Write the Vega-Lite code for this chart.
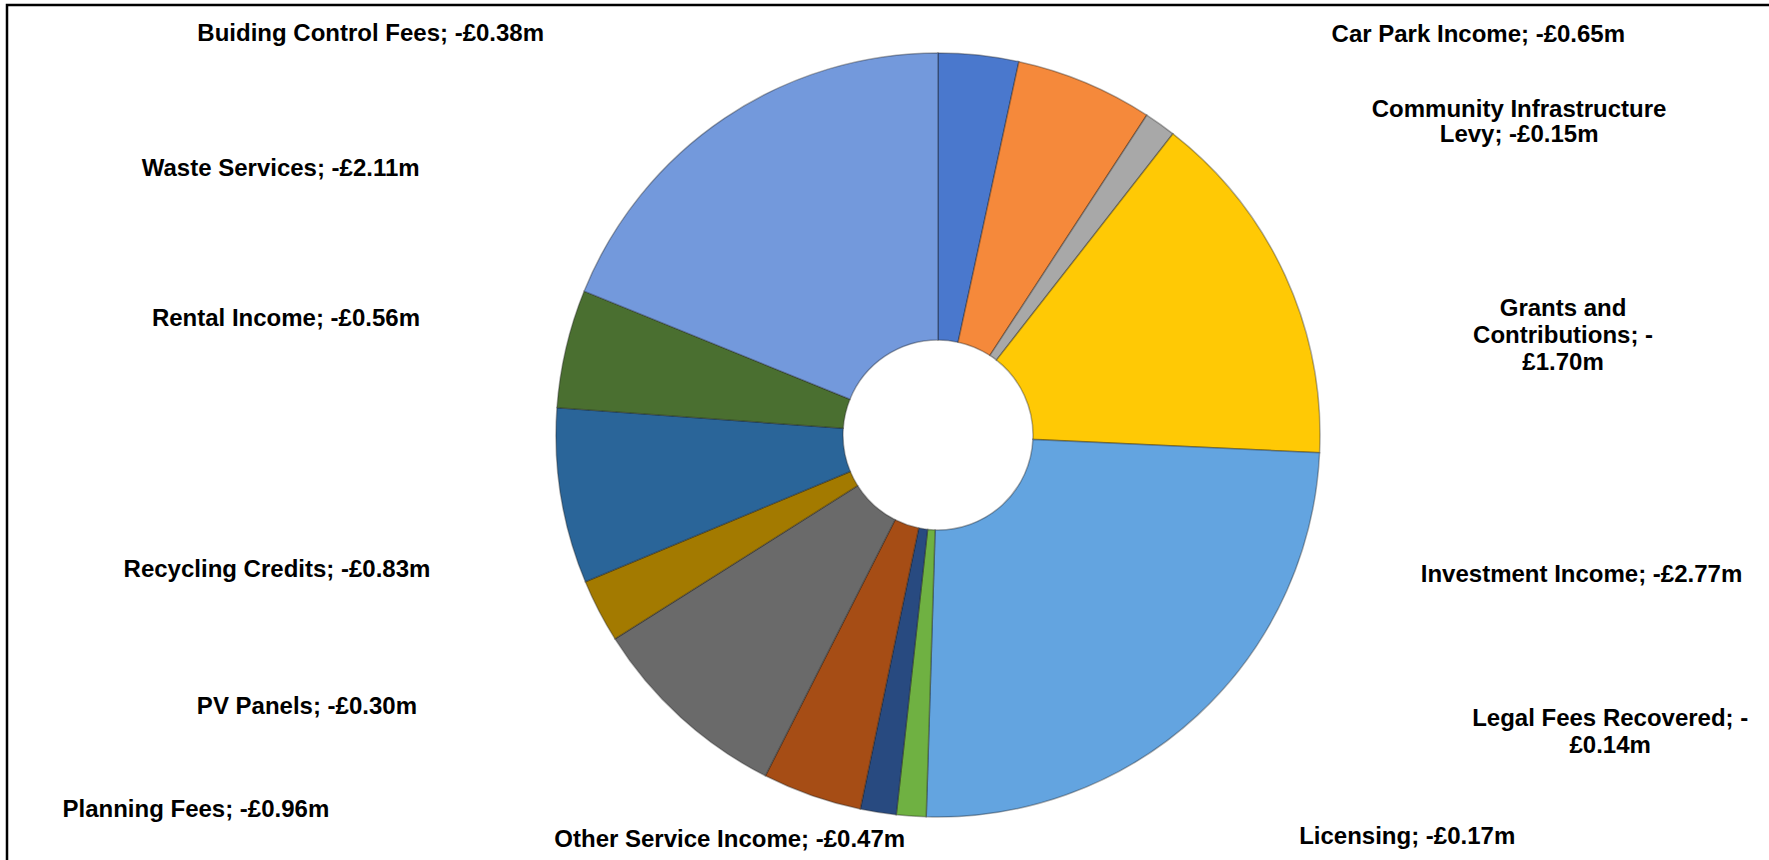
{
  "$schema": "https://vega.github.io/schema/vega-lite/v6.json",
  "width": 1862,
  "height": 860,
  "autosize": {"type": "none"},
  "padding": {"left": 7, "top": 5, "right": -100, "bottom": -5},
  "background": "white",
  "config": {
    "view": {"stroke": null},
    "text": {"font": "Liberation Sans, Arial, sans-serif", "fontSize": 24, "fontWeight": "bold", "color": "#000000", "lineBreak": "\n", "lineHeight": 27}
  },
  "data": {
    "values": [
      {"order": 1, "name": "Buiding Control Fees", "income": 0.38, "label": "Buiding Control Fees; -£0.38m"},
      {"order": 2, "name": "Car Park Income", "income": 0.65, "label": "Car Park Income; -£0.65m"},
      {"order": 3, "name": "Community Infrastructure Levy", "income": 0.15, "label": "Community Infrastructure\nLevy; -£0.15m"},
      {"order": 4, "name": "Grants and Contributions", "income": 1.70, "label": "Grants and\nContributions; -\n£1.70m"},
      {"order": 5, "name": "Investment Income", "income": 2.77, "label": "Investment Income; -£2.77m"},
      {"order": 6, "name": "Legal Fees Recovered", "income": 0.14, "label": "Legal Fees Recovered; -\n£0.14m"},
      {"order": 7, "name": "Licensing", "income": 0.17, "label": "Licensing; -£0.17m"},
      {"order": 8, "name": "Other Service Income", "income": 0.47, "label": "Other Service Income; -£0.47m"},
      {"order": 9, "name": "Planning Fees", "income": 0.96, "label": "Planning Fees; -£0.96m"},
      {"order": 10, "name": "PV Panels", "income": 0.30, "label": "PV Panels; -£0.30m"},
      {"order": 11, "name": "Recycling Credits", "income": 0.83, "label": "Recycling Credits; -£0.83m"},
      {"order": 12, "name": "Rental Income", "income": 0.56, "label": "Rental Income; -£0.56m"},
      {"order": 13, "name": "Waste Services", "income": 2.11, "label": "Waste Services; -£2.11m"}
    ]
  },
  "layer": [
    {
      "data": {"values": [{"frame": 1}]},
      "mark": {"type": "rect", "fill": null, "stroke": "#000000", "strokeWidth": 2.5}
    },
    {
      "mark": {"type": "arc", "radius": 382, "radius2": 95, "stroke": "#1a1a1a", "strokeOpacity": 0.35, "strokeWidth": 1.5},
      "encoding": {
        "theta": {"field": "income", "type": "quantitative", "stack": true},
        "order": {"field": "order", "type": "quantitative"},
        "color": {
          "field": "name", "type": "nominal", "legend": null,
          "scale": {
            "domain": ["Buiding Control Fees", "Car Park Income", "Community Infrastructure Levy", "Grants and Contributions", "Investment Income", "Legal Fees Recovered", "Licensing", "Other Service Income", "Planning Fees", "PV Panels", "Recycling Credits", "Rental Income", "Waste Services"],
            "range": ["#4a78cd", "#f5893b", "#a8a8a8", "#ffc905", "#63a4e0", "#6fb142", "#284a80", "#a64d15", "#6a6a6a", "#a37a00", "#2a6599", "#4a6f30", "#7399dc"]
          }
        }
      }
    },
    {"mark": {"type": "text", "radius": 382, "dx": -608, "dy": -21, "align": "center", "baseline": "middle"}, "encoding": {"theta": {"field": "income", "type": "quantitative", "stack": true}, "order": {"field": "order", "type": "quantitative"}, "detail": {"field": "name"}, "text": {"condition": {"test": "datum.order === 1", "field": "label"}, "value": ""}}},
    {"mark": {"type": "text", "radius": 382, "dx": 393, "dy": -48, "align": "center", "baseline": "middle"}, "encoding": {"theta": {"field": "income", "type": "quantitative", "stack": true}, "order": {"field": "order", "type": "quantitative"}, "detail": {"field": "name"}, "text": {"condition": {"test": "datum.order === 2", "field": "label"}, "value": ""}}},
    {"mark": {"type": "text", "radius": 382, "dx": 359, "dy": -14, "align": "center", "baseline": "middle", "lineHeight": 25}, "encoding": {"theta": {"field": "income", "type": "quantitative", "stack": true}, "order": {"field": "order", "type": "quantitative"}, "detail": {"field": "name"}, "text": {"condition": {"test": "datum.order === 3", "field": "label"}, "value": ""}}},
    {"mark": {"type": "text", "radius": 382, "dx": 278, "dy": 34, "align": "center", "baseline": "middle"}, "encoding": {"theta": {"field": "income", "type": "quantitative", "stack": true}, "order": {"field": "order", "type": "quantitative"}, "detail": {"field": "name"}, "text": {"condition": {"test": "datum.order === 4", "field": "label"}, "value": ""}}},
    {"mark": {"type": "text", "radius": 382, "dx": 384, "dy": -140, "align": "center", "baseline": "middle"}, "encoding": {"theta": {"field": "income", "type": "quantitative", "stack": true}, "order": {"field": "order", "type": "quantitative"}, "detail": {"field": "name"}, "text": {"condition": {"test": "datum.order === 5", "field": "label"}, "value": ""}}},
    {"mark": {"type": "text", "radius": 382, "dx": 699, "dy": -97, "align": "center", "baseline": "middle"}, "encoding": {"theta": {"field": "income", "type": "quantitative", "stack": true}, "order": {"field": "order", "type": "quantitative"}, "detail": {"field": "name"}, "text": {"condition": {"test": "datum.order === 6", "field": "label"}, "value": ""}}},
    {"mark": {"type": "text", "radius": 382, "dx": 529, "dy": 25, "align": "center", "baseline": "middle"}, "encoding": {"theta": {"field": "income", "type": "quantitative", "stack": true}, "order": {"field": "order", "type": "quantitative"}, "detail": {"field": "name"}, "text": {"condition": {"test": "datum.order === 7", "field": "label"}, "value": ""}}},
    {"mark": {"type": "text", "radius": 382, "dx": -82, "dy": 44, "align": "center", "baseline": "middle"}, "encoding": {"theta": {"field": "income", "type": "quantitative", "stack": true}, "order": {"field": "order", "type": "quantitative"}, "detail": {"field": "name"}, "text": {"condition": {"test": "datum.order === 8", "field": "label"}, "value": ""}}},
    {"mark": {"type": "text", "radius": 382, "dx": -485, "dy": 92, "align": "center", "baseline": "middle"}, "encoding": {"theta": {"field": "income", "type": "quantitative", "stack": true}, "order": {"field": "order", "type": "quantitative"}, "detail": {"field": "name"}, "text": {"condition": {"test": "datum.order === 9", "field": "label"}, "value": ""}}},
    {"mark": {"type": "text", "radius": 382, "dx": -292, "dy": 96, "align": "center", "baseline": "middle"}, "encoding": {"theta": {"field": "income", "type": "quantitative", "stack": true}, "order": {"field": "order", "type": "quantitative"}, "detail": {"field": "name"}, "text": {"condition": {"test": "datum.order === 10", "field": "label"}, "value": ""}}},
    {"mark": {"type": "text", "radius": 382, "dx": -284, "dy": 74, "align": "center", "baseline": "middle"}, "encoding": {"theta": {"field": "income", "type": "quantitative", "stack": true}, "order": {"field": "order", "type": "quantitative"}, "detail": {"field": "name"}, "text": {"condition": {"test": "datum.order === 11", "field": "label"}, "value": ""}}},
    {"mark": {"type": "text", "radius": 382, "dx": -280, "dy": -29, "align": "center", "baseline": "middle"}, "encoding": {"theta": {"field": "income", "type": "quantitative", "stack": true}, "order": {"field": "order", "type": "quantitative"}, "detail": {"field": "name"}, "text": {"condition": {"test": "datum.order === 12", "field": "label"}, "value": ""}}},
    {"mark": {"type": "text", "radius": 382, "dx": -444, "dy": 51, "align": "center", "baseline": "middle"}, "encoding": {"theta": {"field": "income", "type": "quantitative", "stack": true}, "order": {"field": "order", "type": "quantitative"}, "detail": {"field": "name"}, "text": {"condition": {"test": "datum.order === 13", "field": "label"}, "value": ""}}}
  ]
}
